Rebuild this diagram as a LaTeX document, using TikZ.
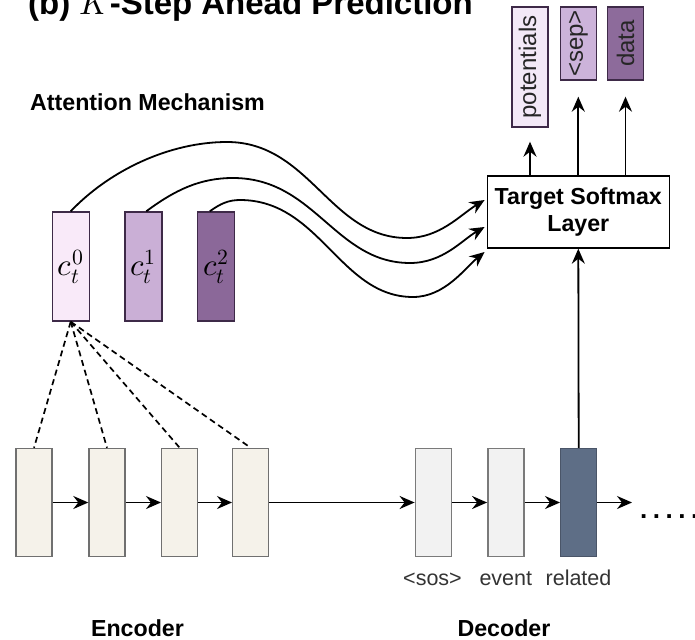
\documentclass[tikz,border=0pt]{standalone}
\usepackage{fontspec}
\usepackage{unicode-math}
\setsansfont{Liberation Sans}
\usetikzlibrary{arrows.meta,calc}
\definecolor{encfill}{HTML}{F5F2EA}
\definecolor{encdraw}{HTML}{707070}
\definecolor{decfill}{HTML}{F2F2F2}
\definecolor{decdraw}{HTML}{7A7A7A}
\definecolor{relfill}{HTML}{5E6E86}
\definecolor{reldraw}{HTML}{4A5568}
\definecolor{purpdraw}{HTML}{3E2A48}
\definecolor{cfillA}{HTML}{F9EAF9}
\definecolor{cfillB}{HTML}{CAAFD6}
\definecolor{cfillC}{HTML}{8B6899}
\definecolor{ofillA}{HTML}{F3E9F7}
\definecolor{ofillB}{HTML}{CCB3DA}
\definecolor{ofillC}{HTML}{8D6B9B}
\definecolor{lbl}{HTML}{333333}
\begin{document}
\begin{tikzpicture}[x=1pt,y=-1pt,
  box/.style={draw, line width=1.4pt, minimum width=36pt, inner sep=0pt},
  encbox/.style={box, draw=encdraw, fill=encfill, minimum height=108pt},
  decbox/.style={box, draw=decdraw, fill=decfill, minimum height=108pt},
  ctxbox/.style={box, draw=purpdraw, minimum width=37pt, minimum height=109pt, font=\fontsize{31}{35}\selectfont},
  outbox/.style={box, draw=purpdraw, text=black!85, font=\sffamily\fontsize{24}{28}\selectfont},
  conn/.style={line width=1.8pt, -{Stealth[length=15pt,width=13pt,inset=5pt]}},
  dashconn/.style={line width=1.7pt, dash pattern=on 6pt off 4pt},
  bold/.style={font=\sffamily\bfseries\fontsize{23.2}{27}\selectfont},
  small/.style={font=\sffamily\fontsize{21.5}{25}\selectfont, text=lbl}
]
\useasboundingbox (0,0) rectangle (695,639);
\clip (0,0) rectangle (695,639);

% title
\node[anchor=base west, inner sep=0pt, font=\sffamily\bfseries\fontsize{33}{38}\selectfont] (title) at (28,15) {(b) $K$-Step Ahead Prediction};
\node[anchor=base west, inner sep=0pt, bold] (att) at (30,111) {Attention Mechanism};

% encoder
\node[encbox] (e1) at (34,502.5) {};
\node[encbox] (e2) at (107,502.5) {};
\node[encbox] (e3) at (179.7,502.5) {};
\node[encbox] (e4) at (250.7,502.5) {};
% decoder
\node[decbox] (d1) at (433.3,502.5) {};
\node[decbox] (d2) at (505.8,502.5) {};
\node[box, draw=reldraw, fill=relfill, minimum height=108pt] (d3) at (578.7,502.5) {};

% context vectors
\node[ctxbox, fill=cfillA] (c0) at (70.7,266.5) {$c_t^0$};
\node[ctxbox, fill=cfillB] (c1) at (143.3,266.5) {$c_t^1$};
\node[ctxbox, fill=cfillC] (c2) at (215.8,266.5) {$c_t^2$};

% softmax
\node[draw, line width=1.4pt, minimum width=182pt, minimum height=72pt, inner sep=0pt, align=center, bold] (sm) at (578.3,212) {Target Softmax\\Layer};

% outputs
\node[outbox, fill=ofillA, minimum height=120pt] (pot) at (530,67) {\rotatebox{90}{potentials}};
\node[outbox, fill=ofillB, minimum height=73pt] (sep) at (578.3,43.5) {\rotatebox{90}{<sep>}};
\node[outbox, fill=ofillC, minimum height=73pt] (dat) at (625.5,43.5) {\rotatebox{90}{data}};

% output arrows
\draw[conn, shorten >=14pt] (sm.north -| pot) -- (pot.south);
\draw[conn, shorten >=16pt] (sm.north -| sep) -- (sep.south);
\draw[conn, shorten >=16pt] (sm.north -| dat) -- (dat.south);

% encoder/decoder chain
\draw[conn] (e1.east) -- (e2.west);
\draw[conn] (e2.east) -- (e3.west);
\draw[conn] (e3.east) -- (e4.west);
\draw[conn] (e4.east) -- (d1.west);
\draw[conn] (d1.east) -- (d2.west);
\draw[conn] (d2.east) -- (d3.west);
\coordinate (dend) at (632,502.5);
\draw[conn] (d3.east) -- (dend);
\node[anchor=base west, inner sep=0pt, font=\sffamily\bfseries\fontsize{26}{28}\selectfont] (dots) at (640,518) {.\hspace{5.5pt}.\hspace{5.5pt}.\hspace{5.5pt}.\hspace{5.5pt}.};

% decoder to softmax
\draw[conn] (d3.north) -- (sm.south);

% attention dashed
\foreach \e in {e1,e2,e3,e4} \draw[dashconn] (c0.south) -- (\e.north);

% curves
\draw[conn] (c0.north) .. controls (110,170) and (170,142) .. (227,142)
  .. controls (310,142) and (330,238) .. (407,238)
  .. controls (440,238) and (460,215) .. ($(sm.west)+(-2,-12)$);
\draw[conn] ([xshift=3pt]c1.north) .. controls (175,190) and (200,178) .. (233,178)
  .. controls (315,178) and (335,263) .. (410,263)
  .. controls (443,263) and (462,240) .. ($(sm.west)+(-2,15)$);
\draw[conn] ([xshift=-6pt]c2.north) .. controls (220,204) and (228,200) .. (240,200)
  .. controls (320,200) and (340,297) .. (413,297)
  .. controls (445,297) and (465,268) .. ($(sm.west)+(-2,40)$);

% labels
\node[anchor=base, inner sep=0pt, small] (lsos) at (432.5,585) {<sos>};
\node[anchor=base, inner sep=0pt, small] (levt) at (505.8,585) {event};
\node[anchor=base, inner sep=0pt, small] (lrel) at (578.5,585) {related};
\node[anchor=base, inner sep=0pt, bold] (lenc) at (137.5,636.5) {Encoder};
\node[anchor=base, inner sep=0pt, bold] (ldec) at (504,636.5) {Decoder};
\end{tikzpicture}
\end{document}
